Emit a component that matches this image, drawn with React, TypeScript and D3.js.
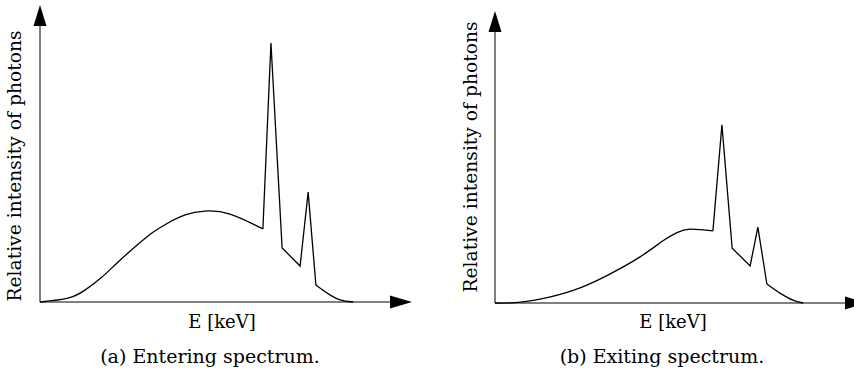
import React, { useEffect, useRef } from 'react';
import * as d3 from 'd3';

// energies in keV, intensities in % of the axis height
const enteringEnergy = [0, 9.0, 14.5, 20.0, 25.2, 30.6, 36.1, 41.3, 46.8, 53.2, 61.3, 71.9, 74.5, 78.1, 83.9, 86.5, 89.0, 93.5, 96.8, 101];
const enteringIntensity = [0, 1.3, 4.0, 8.4, 13.5, 18.5, 23.2, 26.6, 29.3, 30.6, 29.6, 24.6, 87.2, 18.2, 12.1, 37.0, 5.7, 2.4, 0.7, 0];
const enteringKinks = [11, 16];

const exitingEnergy = [0, 6.5, 14.5, 25.2, 36.1, 46.8, 54.2, 58.7, 62.9, 70.3, 73.2, 76.5, 82.3, 84.8, 87.7, 91.9, 96.1, 99.4];
const exitingIntensity = [0, 0.1, 1.3, 4.3, 9.4, 15.8, 21.3, 24.1, 25.3, 24.7, 61.0, 18.8, 12.7, 26.0, 6.5, 3.4, 1.0, 0];
const exitingKinks = [9, 14];

const yLabel = 'Relative intensity of photons';
const xLabel = 'E [keV]';
const captions = ['(a) Entering spectrum.', '(b) Exiting spectrum.'];

const FONT = "'DejaVu Serif', serif";

const panels = [
  { energy: enteringEnergy, intensity: enteringIntensity, kinks: enteringKinks, caption: captions[0],
    x0: 40, x1: 412, y0: 302, y1: 5, yLabelX: 21, yLabelY: 166, xLabelX: 222, captionX: 210 },
  { energy: exitingEnergy, intensity: exitingIntensity, kinks: exitingKinks, caption: captions[1],
    x0: 495, x1: 867, y0: 303, y1: 11, yLabelX: 477, yLabelY: 157, xLabelX: 673, captionX: 662 },
];

export default function App() {
  const svgRef = useRef<SVGSVGElement>(null);

  useEffect(() => {
    const svg = d3.select(svgRef.current);
    svg.selectAll('*').remove();

    panels.forEach((p) => {
      const g = svg.append('g');
      const x = d3.scaleLinear().domain([0, 120]).range([p.x0, p.x1]);
      const y = d3.scaleLinear().domain([0, 100]).range([p.y0, p.y1]);

      // axes with arrow heads
      g.append('line').attr('x1', x(0)).attr('x2', x(120) - 12).attr('y1', y(0)).attr('y2', y(0))
        .attr('stroke', '#000').attr('stroke-width', 1);
      g.append('line').attr('x1', x(0)).attr('x2', x(0)).attr('y1', y(0)).attr('y2', y(100) + 12)
        .attr('stroke', '#000').attr('stroke-width', 1);
      g.append('path')
        .attr('d', `M${x(120)},${y(0)} L${x(120) - 22},${y(0) - 6.5} L${x(120) - 22},${y(0) + 6.5} Z`)
        .attr('fill', '#000');
      g.append('path')
        .attr('d', `M${x(0)},${y(100)} L${x(0) - 6.5},${y(100) + 21} L${x(0) + 6.5},${y(100) + 21} Z`)
        .attr('fill', '#000');

      // spectrum: smooth continuum, sharp characteristic lines
      const pts = p.energy.map((e, i) => [x(e), y(p.intensity[i])] as [number, number]);
      const bell = d3.line().curve(d3.curveNatural);
      const tail = d3.line().curve(d3.curveCatmullRom.alpha(0.5));
      const sharp = d3.line();
      const [k1, k2] = p.kinks;
      [
        [bell, pts.slice(0, k1 + 1)],
        [sharp, pts.slice(k1, k2 + 1)],
        [tail, pts.slice(k2)],
      ].forEach(([gen, seg]: any) => {
        g.append('path').attr('d', gen(seg)).attr('fill', 'none')
          .attr('stroke', '#000').attr('stroke-width', 1.3).attr('stroke-linejoin', 'miter');
      });

      g.append('text')
        .attr('transform', `translate(${p.yLabelX},${p.yLabelY}) rotate(-90)`)
        .attr('text-anchor', 'middle').attr('font-family', FONT).attr('font-size', 18.7)
        .text(yLabel);
      g.append('text').attr('x', p.xLabelX).attr('y', 328)
        .attr('text-anchor', 'middle').attr('font-family', FONT).attr('font-size', 18)
        .text(xLabel);
      g.append('text').attr('x', p.captionX).attr('y', 363)
        .attr('text-anchor', 'middle').attr('font-family', FONT).attr('font-size', 19)
        .text(p.caption);
    });
  }, []);

  return (
    <svg ref={svgRef} width={854} height={375}
      style={{ position: 'absolute', left: 0, top: 0, background: '#fff' }} />
  );
}
